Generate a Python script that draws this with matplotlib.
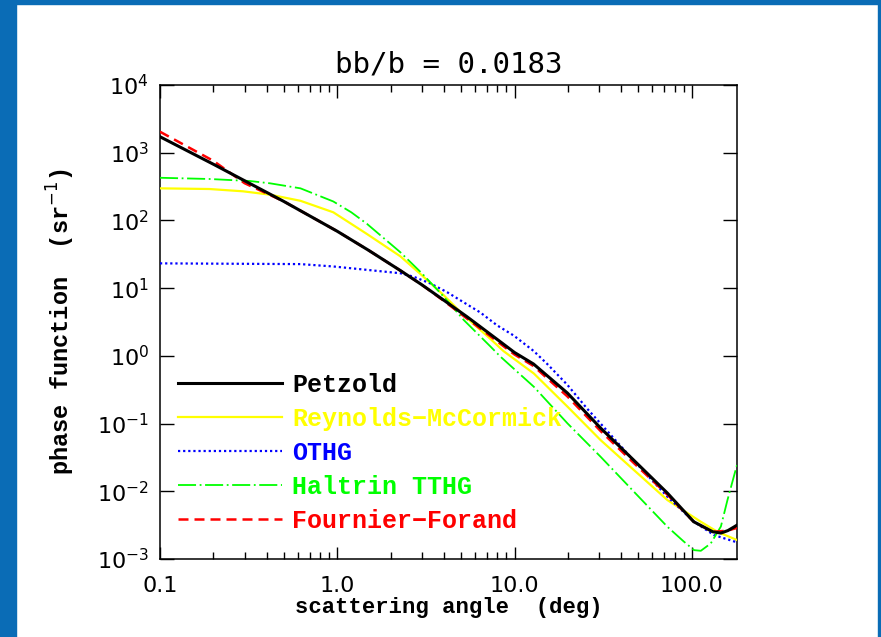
import numpy as np
import matplotlib
matplotlib.use("Agg")
import matplotlib.pyplot as plt
from matplotlib.patches import Rectangle

# phase functions, angle in degrees, value as log10(sr^-1)
petzold_ang = [0.1, 0.2, 0.5, 1.0, 1.5, 2.27, 3.0, 4.0, 5.4, 8.3, 10.0, 12.8, 19.9, 30.6, 47.0, 72.9, 102.6, 131.5, 146.0, 160.0, 172.6, 180.0]
petzold_log = [3.236, 2.83, 2.28, 1.84, 1.56, 1.26, 1.05, 0.82, 0.577, 0.21, 0.05, -0.12, -0.55, -1.066, -1.539, -2.027, -2.45, -2.598, -2.617, -2.58, -2.529, -2.50]

reynolds_ang = [0.1, 0.19, 0.294, 0.418, 0.62, 0.95, 1.47, 2.27, 3.0, 3.97, 5.17, 7.31, 8.67, 12.85, 19.9, 30.6, 47.2, 72.9, 112.5, 139.6, 180.0]
reynolds_log = [2.474, 2.464, 2.43, 2.38, 2.29, 2.12, 1.80, 1.47, 1.19, 0.90, 0.60, 0.25, 0.07, -0.26, -0.75, -1.244, -1.687, -2.13, -2.45, -2.598, -2.72]

othg_ang = [0.1, 0.62, 0.95, 1.47, 2.27, 2.69, 3.35, 4.17, 5.17, 6.42, 7.98, 9.9, 12.85, 15.3, 19.9, 25.7, 30.6, 47.2, 72.9, 103.0, 133.6, 173.0, 180.0]
othg_log = [1.366, 1.355, 1.32, 1.27, 1.22, 1.17, 1.07, 0.94, 0.79, 0.64, 0.45, 0.30, 0.07, -0.12, -0.43, -0.78, -1.0, -1.55, -2.08, -2.45, -2.647, -2.74, -2.75]

haltrin_ang = [0.1, 0.19, 0.322, 0.418, 0.62, 0.95, 1.2, 1.47, 2.27, 3.0, 3.97, 5.17, 7.31, 8.34, 12.85, 19.9, 30.6, 47.2, 72.9, 90.0, 103.0, 112.5, 128.0, 146.0, 159.0, 180.0]
haltrin_log = [2.63, 2.612, 2.582, 2.548, 2.474, 2.28, 2.12, 1.95, 1.53, 1.22, 0.88, 0.53, 0.139, -0.013, -0.456, -0.997, -1.49, -2.007, -2.524, -2.74, -2.869, -2.879, -2.77, -2.52, -2.13, -1.61]

ff_ang = [0.1, 0.2, 0.3, 0.5, 1.0, 1.5, 2.27, 3.0, 4.0, 5.4, 8.3, 10.0, 12.8, 19.9, 30.6, 47.0, 72.9, 102.6, 131.5, 160.0, 180.0]
ff_log = [3.31, 2.88, 2.55, 2.28, 1.84, 1.56, 1.26, 1.05, 0.81, 0.55, 0.18, 0.02, -0.15, -0.60, -1.11, -1.58, -2.05, -2.45, -2.60, -2.58, -2.54]

xticks = [0.1, 1.0, 10.0, 100.0]
xticklabels = ["0.1", "1.0", "10.0", "100.0"]
yticks = [1e-3, 1e-2, 1e-1, 1e0, 1e1, 1e2, 1e3, 1e4]
yticklabels = [r"$10^{-3}$", r"$10^{-2}$", r"$10^{-1}$", r"$10^{0}$", r"$10^{1}$", r"$10^{2}$", r"$10^{3}$", r"$10^{4}$"]

plt.rcParams["mathtext.fontset"] = "dejavusans"

W, H = 881, 637
fig = plt.figure(figsize=(W / 100, H / 100), dpi=100)
fig.patch.set_facecolor("white")

# blue slide frame
frame_col = "#0a6cb6"
fig.patches.append(Rectangle((0, 0), 16 / W, 1, transform=fig.transFigure, color=frame_col, zorder=0))
fig.patches.append(Rectangle((0, 1 - 4 / H), 1, 4 / H, transform=fig.transFigure, color=frame_col, zorder=0))
fig.patches.append(Rectangle((878 / W, 0), 3 / W, 1, transform=fig.transFigure, color=frame_col, zorder=0))

ax = fig.add_axes([160 / W, 1 - 559 / H, 577 / W, 474 / H])

ax.plot(petzold_ang, 10 ** np.array(petzold_log), color="black", lw=2.2, label="Petzold", zorder=5)
ax.plot(reynolds_ang, 10 ** np.array(reynolds_log), color="#ffff00", lw=1.6, label="Reynolds\u2212McCormick", zorder=3)
ax.plot(othg_ang, 10 ** np.array(othg_log), color="#0000ff", lw=1.6, ls=(0, (1, 1.3)), label="OTHG", zorder=3)
ax.plot(haltrin_ang, 10 ** np.array(haltrin_log), color="#00ff00", lw=1.3, ls=(0, (10, 2, 1, 2)), label="Haltrin TTHG", zorder=3)
ax.plot(ff_ang, 10 ** np.array(ff_log), color="#ff0000", lw=1.8, ls=(0, (4, 2.4)), label="Fournier\u2212Forand", zorder=4)

ax.set_xscale("log")
ax.set_yscale("log")
ax.set_xlim(0.1, 180)
ax.set_ylim(1e-3, 1e4)

ax.set_xticks(xticks, labels=xticklabels)
ax.set_yticks(yticks, labels=yticklabels)
ax.yaxis.set_minor_locator(matplotlib.ticker.NullLocator())
ax.tick_params(axis="both", which="both", direction="in", top=True, right=True, width=1)
ax.tick_params(axis="x", which="major", length=9, labelsize=16, pad=12)
ax.tick_params(axis="x", which="minor", length=5)
ax.tick_params(axis="y", which="major", length=10, labelsize=16, pad=8)
for s in ax.spines.values():
    s.set_linewidth(1.1)

ax.set_title("bb/b = 0.0183", family="DejaVu Sans Mono", fontsize=21, pad=9)
ax.set_xlabel(r"scattering angle  (deg)", family="Liberation Mono", weight="bold", fontsize=16, labelpad=1)
ax.set_ylabel(r"phase function  (sr$^{-1}$)", family="Liberation Mono", weight="bold", fontsize=17, labelpad=14)

leg = ax.legend(loc="lower left", bbox_to_anchor=(0.031, 0.055), frameon=False,
                handlelength=4.16, handletextpad=0.4, labelspacing=0.4,
                borderpad=0, borderaxespad=0, labelcolor="linecolor",
                prop={"family": "Liberation Mono", "weight": "bold", "size": 18})

fig.savefig("out.png", dpi=100, facecolor="white")
